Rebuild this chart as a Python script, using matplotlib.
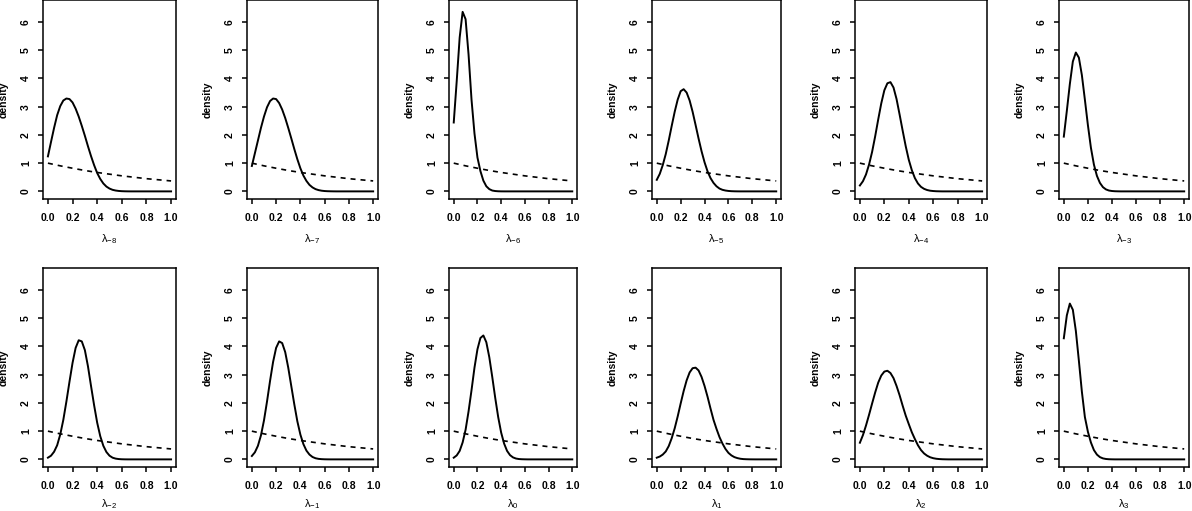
import numpy as np
import matplotlib
matplotlib.use("Agg")
import matplotlib.pyplot as plt

plt.rcParams['font.family'] = ['Liberation Sans', 'DejaVu Sans']
plt.rcParams['mathtext.fontset'] = 'custom'
plt.rcParams['mathtext.rm'] = 'Liberation Sans:bold'
plt.rcParams['mathtext.it'] = 'Liberation Sans:bold'

# sample grid for the posterior curves (step 0.025 from 0 to 1)
lam_grid = np.linspace(0.0, 1.0, 41)

# prior (dashed) read at 0.1 steps
prior_x = [0.0, 0.1, 0.2, 0.3, 0.4, 0.5, 0.6, 0.7, 0.8, 0.9, 1.0]
prior_y = [1.0, 0.905, 0.82, 0.74, 0.67, 0.61, 0.55, 0.5, 0.45, 0.41, 0.37]

# panel labels (subscripts)
subs = ["-8", "-7", "-6", "-5", "-4", "-3", "-2", "-1", "0", "1", "2", "3"]

# posterior densities; values beyond the listed ones are 0
post = {
    "-8": [1.24, 1.75, 2.25, 2.7, 3.02, 3.22, 3.29, 3.27, 3.15, 2.93, 2.65, 2.32,
           1.97, 1.6, 1.25, 0.93, 0.65, 0.44, 0.28, 0.17, 0.1, 0.055, 0.03,
           0.015, 0.007, 0.003, 0.001],
    "-7": [0.9, 1.35, 1.8, 2.25, 2.65, 2.98, 3.2, 3.29, 3.27, 3.13, 2.9, 2.6,
           2.25, 1.88, 1.5, 1.14, 0.82, 0.56, 0.37, 0.23, 0.14, 0.08, 0.045,
           0.024, 0.012, 0.006, 0.003, 0.001],
    "-6": [2.44, 3.9, 5.45, 6.36, 6.1, 4.85, 3.25, 2.05, 1.2, 0.72, 0.38, 0.18,
           0.08, 0.03, 0.012, 0.004, 0.001],
    "-5": [0.41, 0.62, 0.93, 1.32, 1.8, 2.32, 2.82, 3.25, 3.55, 3.62, 3.5, 3.22,
           2.82, 2.35, 1.87, 1.42, 1.03, 0.71, 0.47, 0.3, 0.18, 0.1, 0.055,
           0.03, 0.015, 0.007, 0.003, 0.001],
    "-4": [0.21, 0.36, 0.6, 0.95, 1.4, 1.95, 2.55, 3.12, 3.58, 3.83, 3.87, 3.68,
           3.27, 2.72, 2.15, 1.6, 1.12, 0.75, 0.47, 0.28, 0.16, 0.09, 0.048,
           0.024, 0.012, 0.005, 0.002],
    "-3": [1.94, 2.85, 3.8, 4.6, 4.92, 4.74, 4.12, 3.25, 2.35, 1.55, 0.95, 0.55,
           0.3, 0.15, 0.07, 0.03, 0.013, 0.005, 0.002],
    "-2": [0.06, 0.13, 0.27, 0.5, 0.88, 1.4, 2.05, 2.75, 3.42, 3.95, 4.22, 4.18,
           3.87, 3.3, 2.6, 1.92, 1.3, 0.82, 0.48, 0.26, 0.13, 0.06, 0.027,
           0.011, 0.004, 0.001],
    "-1": [0.12, 0.25, 0.48, 0.85, 1.38, 2.05, 2.78, 3.45, 3.95, 4.18, 4.12, 3.8,
           3.25, 2.6, 1.95, 1.35, 0.88, 0.54, 0.31, 0.17, 0.085, 0.04, 0.018,
           0.008, 0.003, 0.001],
    "0": [0.06, 0.14, 0.3, 0.6, 1.05, 1.7, 2.45, 3.25, 3.9, 4.3, 4.39, 4.15,
          3.62, 2.92, 2.18, 1.5, 0.95, 0.56, 0.3, 0.15, 0.07, 0.03, 0.012,
          0.005, 0.002],
    "1": [0.06, 0.1, 0.17, 0.28, 0.47, 0.75, 1.1, 1.52, 1.98, 2.42, 2.8, 3.08,
          3.23, 3.25, 3.15, 2.92, 2.6, 2.22, 1.8, 1.4, 1.08, 0.79, 0.56, 0.37,
          0.23, 0.14, 0.08, 0.045, 0.022, 0.01, 0.005, 0.002, 0.001],
    "2": [0.59, 0.86, 1.2, 1.58, 1.98, 2.37, 2.72, 2.97, 3.11, 3.14, 3.06, 2.88,
          2.6, 2.27, 1.9, 1.55, 1.25, 0.96, 0.72, 0.5, 0.33, 0.21, 0.13, 0.075,
          0.042, 0.022, 0.011, 0.005, 0.002],
    "3": [4.29, 5.1, 5.52, 5.3, 4.55, 3.5, 2.4, 1.5, 0.98, 0.6, 0.33, 0.17,
          0.08, 0.035, 0.014, 0.005, 0.002],
}

W, H = 1192, 511
fig = plt.figure(figsize=(W / 100, H / 100), dpi=100)

cols = [(43, 176), (247, 378), (449, 577), (652, 781), (855, 987), (1059, 1189)]
rows = [(0, 199), (268, 467)]

for i, s in enumerate(subs):
    r, c = divmod(i, 6)
    x0, x1 = cols[c]
    t, b = rows[r]
    ax = fig.add_axes([x0 / W, 1 - b / H, (x1 - x0) / W, (b - t) / H])

    vals = post[s] + [0.0] * (len(lam_grid) - len(post[s]))
    ax.plot(lam_grid, vals, color='black', lw=1.4)
    ax.plot(prior_x, prior_y, color='black', lw=1.2, dashes=(3, 3))

    ax.set_xlim(-0.04, 1.04)
    ax.set_ylim(-0.27, 6.78)
    ax.set_xticks([0.0, 0.2, 0.4, 0.6, 0.8, 1.0])
    ax.set_xticklabels(["0.0", "0.2", "0.4", "0.6", "0.8", "1.0"])
    ax.set_yticks(range(7))
    for lab in ax.get_xticklabels() + ax.get_yticklabels():
        lab.set_fontweight('bold')
    for lab in ax.get_yticklabels():
        lab.set_rotation(90)
        lab.set_va('center')
    ax.tick_params(direction='out', length=3.6, width=1.1, labelsize=7.5,
                   colors='black')
    ax.tick_params(axis='x', pad=6.5)
    ax.tick_params(axis='y', pad=5)
    for sp in ax.spines.values():
        sp.set_linewidth(1.1)

    ax.set_ylabel("density", fontsize=7.5, fontweight='bold', labelpad=9)
    # bottom row label sits a bit higher so it stays inside the figure
    ax.set_xlabel(r"$\mathregular{\lambda_{%s}}$" % s, fontsize=8,
                  labelpad=6.5 if r == 0 else 4.5)

fig.savefig("out.png", dpi=100)
